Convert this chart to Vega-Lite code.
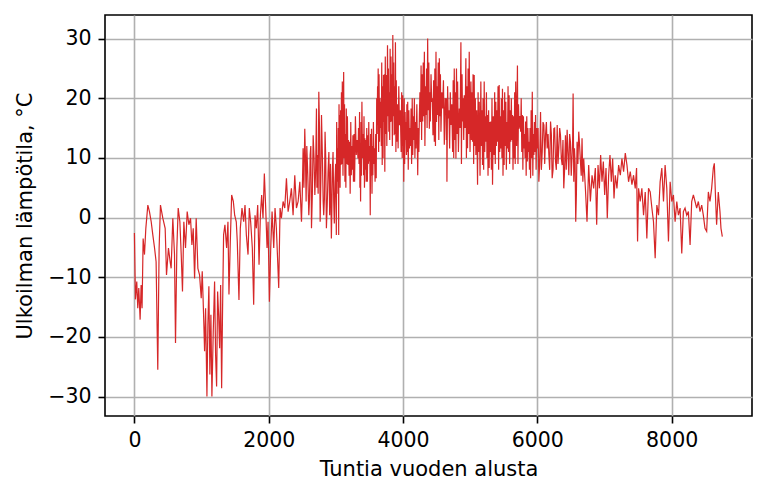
{
  "$schema": "https://vega.github.io/schema/vega-lite/v6.json",
  "autosize": "none",
  "width": 647,
  "height": 401,
  "padding": {"left": 105, "top": 15, "right": 16, "bottom": 79},
  "background": "white",
  "config": {
    "view": {"stroke": "black", "strokeWidth": 1.6},
    "font": "DejaVu Sans",
    "axis": {
      "labelFont": "DejaVu Sans",
      "titleFont": "DejaVu Sans",
      "labelFontSize": 20.5,
      "titleFontSize": 21,
      "labelColor": "black",
      "titleColor": "black",
      "titleFontWeight": "normal",
      "domain": false,
      "tickColor": "black",
      "tickWidth": 1.6,
      "tickSize": 7,
      "labelPadding": 7,
      "grid": true,
      "gridColor": "#b0b0b0",
      "gridWidth": 1.6
    }
  },
  "data": {"values": [
    {"h":0,"t":-2.6},{"h":15,"t":-13.7},{"h":35,"t":-10.7},{"h":50,"t":-15.2},{"h":65,"t":-11.8},{"h":85,"t":-17.1},{"h":100,"t":-11.3},{"h":114,"t":-15.2},{"h":130,"t":-3.5},{"h":150,"t":-6.2},{"h":170,"t":-1.8},{"h":200,"t":2.1},{"h":224,"t":1.0},{"h":250,"t":-0.7},{"h":274,"t":-2.9},{"h":300,"t":-5.1},{"h":323,"t":-7.4},{"h":348,"t":-25.5},{"h":368,"t":-5.1},{"h":388,"t":2.1},{"h":423,"t":-0.1},{"h":458,"t":-1.8},{"h":478,"t":-9.6},{"h":507,"t":-5.1},{"h":532,"t":-7.4},{"h":547,"t":-8.5},{"h":572,"t":-0.1},{"h":597,"t":-6.2},{"h":612,"t":-21.0},{"h":632,"t":-5.1},{"h":652,"t":1.6},{"h":677,"t":-0.7},{"h":697,"t":-6.2},{"h":716,"t":-12.4},{"h":736,"t":-0.7},{"h":761,"t":-5.1},{"h":786,"t":1.0},{"h":811,"t":-1.2},{"h":836,"t":-0.1},{"h":856,"t":-4.6},{"h":876,"t":-1.8},{"h":896,"t":-10.2},{"h":920,"t":-0.1},{"h":945,"t":-8.5},{"h":970,"t":-9.6},{"h":995,"t":-13.5},{"h":1010,"t":-9.0},{"h":1030,"t":-16.3},{"h":1045,"t":-22.4},{"h":1060,"t":-15.2},{"h":1080,"t":-30.0},{"h":1094,"t":-18.0},{"h":1109,"t":-11.5},{"h":1124,"t":-26.3},{"h":1139,"t":-16.3},{"h":1154,"t":-30.0},{"h":1174,"t":-19.1},{"h":1194,"t":-10.7},{"h":1209,"t":-23.0},{"h":1224,"t":-28.3},{"h":1239,"t":-12.4},{"h":1254,"t":-16.3},{"h":1269,"t":-21.9},{"h":1284,"t":-11.3},{"h":1299,"t":-28.6},{"h":1313,"t":-15.2},{"h":1328,"t":-2.9},{"h":1348,"t":-1.2},{"h":1373,"t":-5.1},{"h":1393,"t":-0.7},{"h":1408,"t":-12.9},{"h":1428,"t":-4.0},{"h":1448,"t":3.8},{"h":1473,"t":2.7},{"h":1493,"t":0.4},{"h":1517,"t":-0.7},{"h":1532,"t":-4.0},{"h":1557,"t":-13.8},{"h":1577,"t":-1.8},{"h":1602,"t":1.6},{"h":1627,"t":-0.7},{"h":1647,"t":2.1},{"h":1667,"t":-2.9},{"h":1692,"t":-6.2},{"h":1711,"t":1.6},{"h":1731,"t":-0.7},{"h":1756,"t":-5.1},{"h":1776,"t":-14.6},{"h":1796,"t":0.4},{"h":1816,"t":-1.8},{"h":1836,"t":2.1},{"h":1856,"t":-7.9},{"h":1876,"t":0.4},{"h":1895,"t":3.8},{"h":1915,"t":-0.1},{"h":1935,"t":7.4},{"h":1955,"t":1.6},{"h":1975,"t":-5.1},{"h":1990,"t":-0.7},{"h":2010,"t":-14.1},{"h":2030,"t":-5.1},{"h":2050,"t":1.0},{"h":2075,"t":-5.1},{"h":2094,"t":1.6},{"h":2114,"t":-1.8},{"h":2134,"t":-7.4},{"h":2149,"t":-11.8},{"h":2169,"t":1.6},{"h":2189,"t":-0.1},{"h":2214,"t":2.7},{"h":2239,"t":1.6},{"h":2264,"t":6.6},{"h":2289,"t":1.0},{"h":2313,"t":2.7},{"h":2338,"t":4.9},{"h":2363,"t":0.4},{"h":2388,"t":7.1},{"h":2413,"t":1.6},{"h":2438,"t":2.7},{"h":2463,"t":6.0},{"h":2488,"t":-0.7},{"h":2512,"t":11.6},{"h":2537,"t":14.9},{"h":2557,"t":2.7},{"h":2577,"t":8.8},{"h":2597,"t":0.4},{"h":2617,"t":10.5},{"h":2637,"t":-1.8},{"h":2662,"t":13.8},{"h":2687,"t":3.8},{"h":2711,"t":18.3},{"h":2726,"t":10.5},{"h":2746,"t":21.1},{"h":2766,"t":-0.7},{"h":2786,"t":17.2},{"h":2811,"t":2.7},
    {"h":2819,"t":0.4},{"h":2839,"t":14.4},{"h":2859,"t":-1.8},{"h":2884,"t":7.7},{"h":2908,"t":0.4},{"h":2933,"t":-3.5},{"h":2948,"t":7.7},{"h":2968,"t":2.7},{"h":2987,"t":6.0},{"h":3007,"t":-2.9},{"h":3022,"t":11.6},{"h":3042,"t":-2.9},{"h":3056,"t":17.2},{"h":3076,"t":8.8},{"h":3096,"t":22.8},{"h":3116,"t":24.4},{"h":3135,"t":6.0},{"h":3155,"t":18.3},{"h":3180,"t":8.8},{"h":3205,"t":12.7},{"h":3230,"t":7.1},{"h":3254,"t":13.8},{"h":3279,"t":6.0},{"h":3304,"t":10.5},{"h":3329,"t":9.9},{"h":3353,"t":17.7},{"h":3368,"t":2.7},{"h":3388,"t":19.4},{"h":3413,"t":7.1},{"h":3432,"t":13.3},{"h":3452,"t":6.0},{"h":3477,"t":13.8},{"h":3497,"t":9.4},{"h":3512,"t":0.4},{"h":3531,"t":14.9},{"h":3551,"t":7.1},{"h":3576,"t":11.6},{"h":3601,"t":6.6},{"h":3616,"t":15.5},{"h":3630,"t":25.0},{"h":3650,"t":12.7},{"h":3670,"t":19.4},{"h":3690,"t":8.8},{"h":3709,"t":23.9},{"h":3729,"t":7.7},{"h":3749,"t":23.9},{"h":3769,"t":28.9},{"h":3789,"t":14.4},{"h":3808,"t":28.3},{"h":3828,"t":16.1},{"h":3848,"t":30.6},{"h":3868,"t":13.8},{"h":3887,"t":29.4},{"h":3907,"t":12.7},{"h":3927,"t":11.6},{"h":3947,"t":15.5},{"h":3972,"t":11.0},{"h":3996,"t":20.5},{"h":4011,"t":6.0},{"h":4031,"t":17.7},{"h":4051,"t":10.5},{"h":4070,"t":19.4},{"h":4095,"t":11.6},{"h":4120,"t":18.3},{"h":4145,"t":10.5},{"h":4169,"t":20.0},{"h":4194,"t":11.6},{"h":4219,"t":7.1},{"h":4244,"t":17.2},{"h":4269,"t":25.5},{"h":4293,"t":16.1},{"h":4318,"t":27.8},{"h":4343,"t":17.2},{"h":4367,"t":30.0},{"h":4392,"t":14.9},{"h":4407,"t":16.1},{"h":4427,"t":19.4},{"h":4446,"t":13.8},{"h":4466,"t":12.7},{"h":4491,"t":27.8},{"h":4516,"t":17.2},{"h":4541,"t":26.7},{"h":4565,"t":14.4},{"h":4590,"t":18.3},{"h":4615,"t":12.2},{"h":4640,"t":19.4},{"h":4654,"t":6.0},{"h":4674,"t":16.6},{"h":4694,"t":11.6},{"h":4714,"t":15.5},{"h":4739,"t":11.0},{"h":4763,"t":25.0},{"h":4788,"t":9.9},{"h":4813,"t":22.8},{"h":4838,"t":18.3},{"h":4862,"t":29.4},{"h":4887,"t":16.1},{"h":4912,"t":20.5},{"h":4936,"t":26.7},{"h":4961,"t":11.6},{"h":4986,"t":27.8},{"h":5011,"t":22.8},{"h":5035,"t":12.7},{"h":5060,"t":23.9},{"h":5085,"t":10.5},{"h":5110,"t":5.5},{"h":5135,"t":19.4},{"h":5159,"t":22.8},{"h":5184,"t":8.8},{"h":5209,"t":22.8},{"h":5234,"t":12.7},{"h":5258,"t":17.2},{"h":5283,"t":8.3},{"h":5308,"t":16.1},{"h":5333,"t":5.5},{"h":5357,"t":10.5},{"h":5382,"t":19.4},{"h":5407,"t":12.7},{"h":5432,"t":22.2},{"h":5457,"t":11.6},{"h":5481,"t":21.6},{"h":5506,"t":8.8},{"h":5531,"t":19.4},{"h":5556,"t":11.6},{"h":5580,"t":20.5},{"h":5605,"t":12.7},{"h":5630,"t":17.2},{"h":5655,"t":9.9},{"h":5678,"t":22.8},{"h":5704,"t":25.5},{"h":5728,"t":14.9},
    {"h":5752,"t":14.4},{"h":5777,"t":17.2},{"h":5801,"t":11.6},{"h":5826,"t":16.1},{"h":5851,"t":9.4},{"h":5875,"t":12.7},{"h":5900,"t":6.6},{"h":5925,"t":21.1},{"h":5949,"t":10.5},{"h":5974,"t":17.2},{"h":5999,"t":11.6},{"h":6023,"t":6.0},{"h":6048,"t":17.7},{"h":6073,"t":11.0},{"h":6098,"t":15.5},{"h":6122,"t":13.8},{"h":6147,"t":11.6},{"h":6172,"t":10.5},{"h":6197,"t":16.1},{"h":6221,"t":6.6},{"h":6246,"t":14.9},{"h":6271,"t":9.4},{"h":6296,"t":15.5},{"h":6320,"t":11.6},{"h":6345,"t":13.8},{"h":6370,"t":8.8},{"h":6394,"t":4.9},{"h":6419,"t":13.8},{"h":6444,"t":14.7},{"h":6469,"t":7.1},{"h":6493,"t":12.7},{"h":6518,"t":10.5},{"h":6533,"t":20.8},{"h":6553,"t":11.6},{"h":6572,"t":-0.7},{"h":6592,"t":12.7},{"h":6617,"t":14.4},{"h":6642,"t":9.4},{"h":6666,"t":13.3},{"h":6691,"t":9.9},{"h":6716,"t":4.9},{"h":6740,"t":-0.7},{"h":6765,"t":8.8},{"h":6790,"t":2.7},{"h":6815,"t":7.1},{"h":6839,"t":4.9},{"h":6864,"t":8.3},{"h":6884,"t":-1.2},{"h":6904,"t":8.8},{"h":6924,"t":4.9},{"h":6943,"t":10.5},{"h":6963,"t":6.0},{"h":6983,"t":9.4},{"h":7003,"t":3.8},{"h":7023,"t":8.3},{"h":7042,"t":-0.1},{"h":7062,"t":7.1},{"h":7082,"t":10.5},{"h":7102,"t":6.0},{"h":7122,"t":9.9},{"h":7142,"t":3.2},{"h":7161,"t":7.1},{"h":7186,"t":4.9},{"h":7211,"t":8.8},{"h":7236,"t":7.1},{"h":7260,"t":9.9},{"h":7285,"t":7.7},{"h":7310,"t":10.8},{"h":7335,"t":8.8},{"h":7359,"t":6.0},{"h":7384,"t":7.7},{"h":7409,"t":5.5},{"h":7433,"t":7.1},{"h":7458,"t":4.9},{"h":7478,"t":8.3},{"h":7493,"t":-4.0},{"h":7508,"t":4.9},{"h":7532,"t":2.7},{"h":7557,"t":4.9},{"h":7582,"t":0.4},{"h":7607,"t":4.3},{"h":7631,"t":-3.5},{"h":7656,"t":4.9},{"h":7681,"t":4.3},{"h":7706,"t":1.6},{"h":7730,"t":-0.7},{"h":7755,"t":-6.8},{"h":7780,"t":2.1},{"h":7805,"t":0.4},{"h":7829,"t":6.0},{"h":7854,"t":8.3},{"h":7879,"t":2.7},{"h":7903,"t":8.8},{"h":7928,"t":4.9},{"h":7953,"t":-4.0},{"h":7978,"t":6.0},{"h":8002,"t":2.7},{"h":8027,"t":3.8},{"h":8052,"t":-0.7},{"h":8077,"t":2.7},{"h":8101,"t":0.4},{"h":8126,"t":1.6},{"h":8151,"t":-6.0},{"h":8175,"t":1.0},{"h":8200,"t":1.6},{"h":8225,"t":0.4},{"h":8250,"t":1.0},{"h":8275,"t":-4.6},{"h":8299,"t":2.7},{"h":8324,"t":3.8},{"h":8349,"t":2.7},{"h":8373,"t":1.6},{"h":8398,"t":2.7},{"h":8423,"t":1.0},{"h":8448,"t":2.1},{"h":8472,"t":0.4},{"h":8497,"t":-1.8},{"h":8522,"t":-2.3},{"h":8547,"t":4.3},{"h":8571,"t":2.7},{"h":8596,"t":4.9},{"h":8621,"t":8.3},{"h":8636,"t":9.1},{"h":8656,"t":2.7},{"h":8670,"t":-1.2},{"h":8695,"t":4.3},{"h":8720,"t":1.0},{"h":8735,"t":-1.8},{"h":8755,"t":-3.2},
    {"h":2500,"t":4},{"h":2524,"t":5},{"h":2547,"t":10},{"h":2567,"t":12},{"h":2587,"t":5},{"h":2607,"t":3},{"h":2627,"t":12},{"h":2650,"t":4},{"h":2675,"t":10},{"h":2699,"t":8},{"h":2718,"t":5},{"h":2736,"t":4},{"h":2756,"t":15},{"h":2776,"t":6},{"h":2798,"t":11},{"h":2829,"t":3},{"h":2849,"t":10},{"h":2871,"t":2},{"h":2896,"t":11},{"h":2920,"t":9},{"h":2940,"t":1},{"h":2958,"t":11},{"h":2977,"t":-1},{"h":2997,"t":9},
    {"h":3012,"t":16},{"h":3017,"t":4},{"h":3029,"t":6},{"h":3036,"t":15},{"h":3047,"t":19},{"h":3052,"t":8},{"h":3063,"t":5},{"h":3070,"t":18},{"h":3083,"t":21},{"h":3090,"t":9},{"h":3106,"t":7},{"h":3122,"t":10},{"h":3129,"t":19},{"h":3142,"t":14},{"h":3149,"t":5},{"h":3163,"t":9},{"h":3172,"t":17},{"h":3188,"t":13},{"h":3197,"t":7},{"h":3213,"t":4},{"h":3222,"t":16},{"h":3238,"t":12},{"h":3246,"t":8},{"h":3262,"t":6},{"h":3271,"t":14},{"h":3291,"t":17},{"h":3316,"t":13},{"h":3337,"t":15},{"h":3345,"t":9},{"h":3358,"t":5},{"h":3363,"t":12},{"h":3375,"t":16},{"h":3381,"t":7},{"h":3396,"t":10},{"h":3405,"t":14},{"h":3419,"t":17},{"h":3426,"t":5},{"h":3439,"t":8},{"h":3446,"t":13},{"h":3460,"t":15},{"h":3469,"t":6},{"h":3484,"t":9},{"h":3490,"t":16},{"h":3505,"t":12},{"h":3518,"t":14},{"h":3525,"t":7},{"h":3538,"t":4},{"h":3545,"t":12},{"h":3559,"t":16},{"h":3568,"t":9},{"h":3584,"t":6},{"h":3593,"t":14},{"h":3608,"t":20},
    {"h":3621,"t":22},{"h":3625,"t":14},{"h":3637,"t":11},{"h":3643,"t":24},{"h":3657,"t":20},{"h":3663,"t":15},{"h":3677,"t":12},{"h":3683,"t":26},{"h":3696,"t":22},{"h":3703,"t":10},{"h":3716,"t":16},{"h":3722,"t":24},{"h":3736,"t":27},{"h":3742,"t":14},{"h":3759,"t":12},{"h":3776,"t":17},{"h":3782,"t":25},{"h":3795,"t":21},{"h":3802,"t":13},{"h":3815,"t":16},{"h":3821,"t":27},{"h":3835,"t":24},{"h":3841,"t":12},{"h":3855,"t":17},{"h":3861,"t":26},{"h":3874,"t":22},{"h":3881,"t":14},{"h":3894,"t":11},{"h":3900,"t":23},{"h":3917,"t":19},{"h":3937,"t":22},{"h":3960,"t":18},{"h":3980,"t":21},{"h":3988,"t":10},
    {"h":4001,"t":12},{"h":4006,"t":17},{"h":4018,"t":20},{"h":4024,"t":9},{"h":4038,"t":13},{"h":4044,"t":16},{"h":4057,"t":19},{"h":4064,"t":11},{"h":4078,"t":8},{"h":4087,"t":18},{"h":4103,"t":15},{"h":4112,"t":12},{"h":4128,"t":9},{"h":4137,"t":20},{"h":4153,"t":17},{"h":4161,"t":13},{"h":4177,"t":10},{"h":4186,"t":16},{"h":4206,"t":19},{"h":4227,"t":15},{"h":4236,"t":11},
    {"h":4252,"t":21},{"h":4261,"t":16},{"h":4277,"t":13},{"h":4285,"t":24},{"h":4301,"t":26},{"h":4310,"t":17},{"h":4326,"t":12},{"h":4335,"t":22},{"h":4351,"t":25},{"h":4359,"t":15},{"h":4375,"t":18},{"h":4384,"t":26},{"h":4400,"t":21},{"h":4417,"t":24},{"h":4437,"t":20},{"h":4456,"t":23},{"h":4474,"t":25},{"h":4483,"t":12},{"h":4499,"t":16},{"h":4508,"t":22},{"h":4524,"t":26},{"h":4533,"t":13},{"h":4549,"t":17},{"h":4557,"t":24},{"h":4578,"t":21},{"h":4602,"t":23},{"h":4628,"t":20},
    {"h":4645,"t":13},{"h":4650,"t":20},{"h":4664,"t":22},{"h":4684,"t":18},{"h":4704,"t":21},{"h":4726,"t":19},{"h":4747,"t":23},{"h":4755,"t":10},{"h":4771,"t":13},{"h":4780,"t":21},{"h":4796,"t":25},{"h":4805,"t":14},{"h":4825,"t":11},{"h":4850,"t":15},{"h":4870,"t":9},{"h":4879,"t":24},{"h":4895,"t":20},{"h":4904,"t":13},{"h":4924,"t":15},{"h":4944,"t":10},{"h":4953,"t":22},{"h":4969,"t":25},{"h":4978,"t":14},{"h":4998,"t":11},{"h":5019,"t":13},{"h":5027,"t":21},{"h":5043,"t":24},{"h":5052,"t":9},{"h":5068,"t":12},{"h":5077,"t":20},
    {"h":5097,"t":18},{"h":5118,"t":21},{"h":5127,"t":11},{"h":5147,"t":7},{"h":5167,"t":12},{"h":5176,"t":18},{"h":5192,"t":20},{"h":5201,"t":8},{"h":5217,"t":11},{"h":5226,"t":17},{"h":5242,"t":21},{"h":5250,"t":10},{"h":5266,"t":7},{"h":5275,"t":18},{"h":5291,"t":16},{"h":5300,"t":11},{"h":5316,"t":8},{"h":5325,"t":20},{"h":5345,"t":17},{"h":5365,"t":21},{"h":5374,"t":9},{"h":5390,"t":12},{"h":5399,"t":18},{"h":5415,"t":22},{"h":5424,"t":8},{"h":5440,"t":11},{"h":5449,"t":17},{"h":5465,"t":20},{"h":5473,"t":10},{"h":5489,"t":7},{"h":5498,"t":18},{"h":5514,"t":21},{"h":5523,"t":12},{"h":5539,"t":8},{"h":5548,"t":16},{"h":5564,"t":22},{"h":5572,"t":11},{"h":5588,"t":9},{"h":5597,"t":18},{"h":5613,"t":20},{"h":5622,"t":13},{"h":5638,"t":8},{"h":5647,"t":17},{"h":5663,"t":21},{"h":5671,"t":9},{"h":5691,"t":12},{"h":5712,"t":9},{"h":5720,"t":19},{"h":5740,"t":17},{"h":5760,"t":20},{"h":5769,"t":11},{"h":5785,"t":8},{"h":5793,"t":17},
    {"h":5809,"t":14},{"h":5818,"t":10},{"h":5834,"t":7},{"h":5843,"t":17},{"h":5859,"t":15},{"h":5867,"t":11},{"h":5883,"t":8},{"h":5892,"t":15},{"h":5908,"t":18},{"h":5917,"t":10},{"h":5933,"t":7},{"h":5941,"t":14},{"h":5957,"t":16},{"h":5966,"t":11},{"h":5982,"t":8},{"h":5991,"t":15},
    {"h":6011,"t":15},{"h":6035,"t":9},{"h":6060,"t":8},{"h":6085,"t":16},{"h":6110,"t":9},{"h":6135,"t":16},{"h":6160,"t":14},{"h":6184,"t":8},{"h":6209,"t":14},{"h":6234,"t":8},{"h":6258,"t":15},{"h":6283,"t":8},{"h":6308,"t":9},{"h":6333,"t":15},{"h":6357,"t":10},{"h":6382,"t":13},{"h":6406,"t":8},{"h":6431,"t":8},{"h":6456,"t":11},{"h":6481,"t":14},{"h":6505,"t":7},{"h":6526,"t":13},{"h":6543,"t":6},{"h":6563,"t":9},{"h":6582,"t":4},{"h":6604,"t":9},{"h":6630,"t":12},{"h":6654,"t":7},{"h":6678,"t":6}
  ]},
  "mark": {"type": "line", "color": "#d62728", "strokeWidth": 1.2, "clip": true},
  "encoding": {
    "x": {
      "field": "h", "type": "quantitative",
      "title": "Tuntia vuoden alusta",
      "scale": {"domain": [-438, 9197], "nice": false, "zero": false},
      "axis": {"values": [0, 2000, 4000, 6000, 8000], "format": "d", "titlePadding": 8}
    },
    "y": {
      "field": "t", "type": "quantitative",
      "title": "Ulkoilman lämpötila, °C",
      "scale": {"domain": [-33.25, 33.95], "nice": false, "zero": false},
      "axis": {"values": [-30, -20, -10, 0, 10, 20, 30], "format": "d", "titlePadding": 12}
    }
  }
}
